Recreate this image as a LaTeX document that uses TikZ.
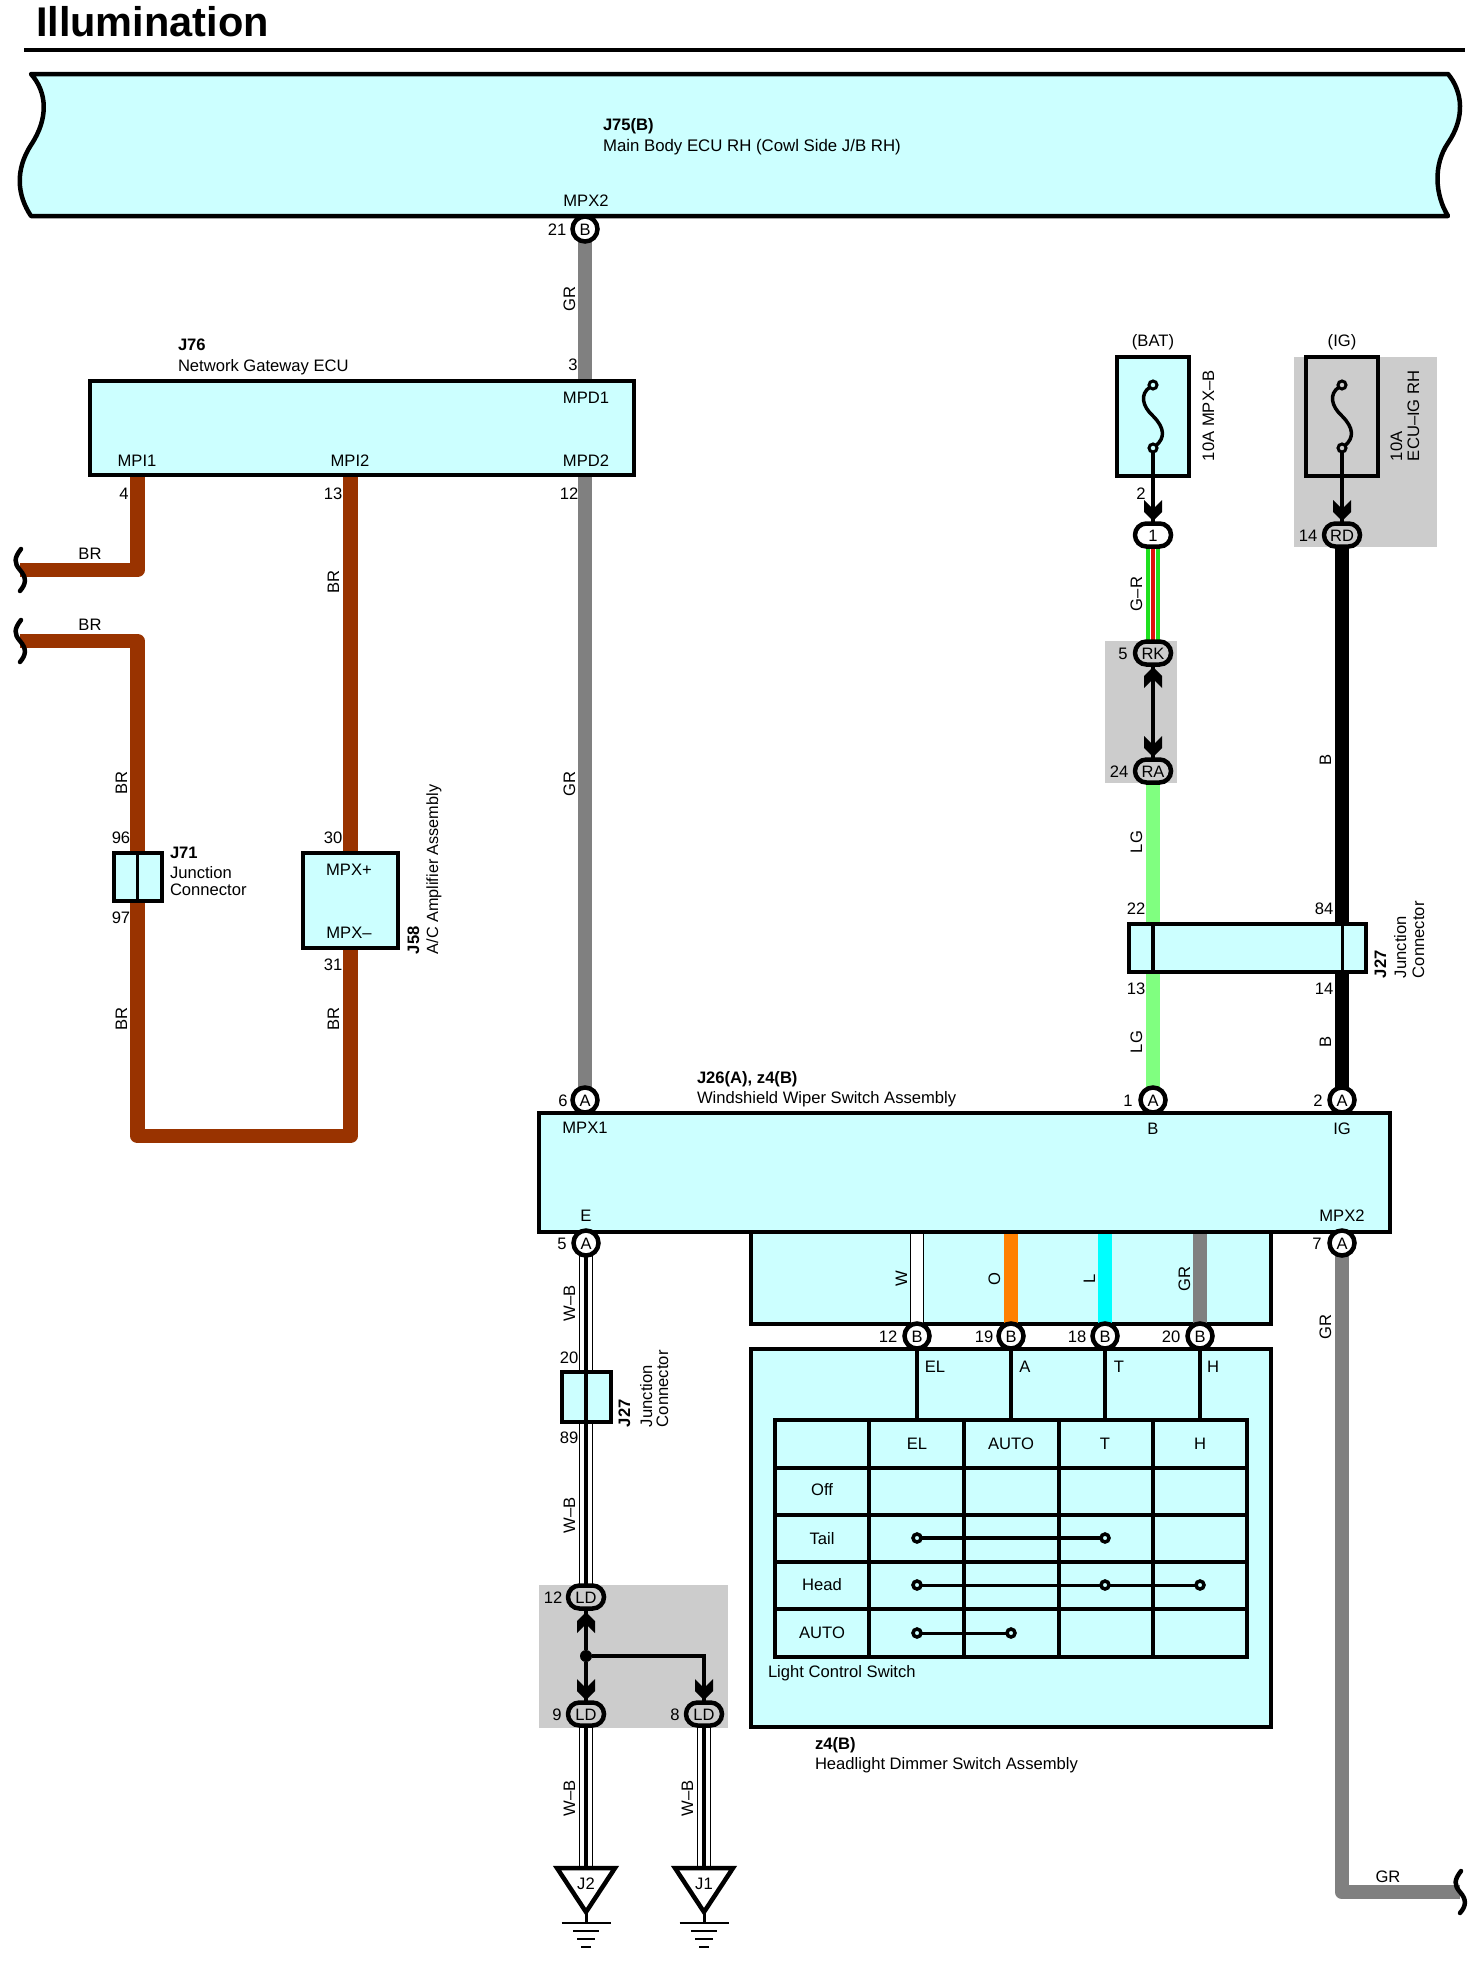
\documentclass[tikz,border=0pt]{standalone}
\usepackage{fontspec}
\setmainfont{Liberation Sans}
\pgfdeclarelayer{grayl}
\pgfdeclarelayer{wires}
\pgfsetlayers{grayl,wires,main}
\definecolor{cy}{HTML}{CCFFFF}
\definecolor{gy}{HTML}{CCCCCC}
\definecolor{wbr}{HTML}{993300}
\definecolor{wgr}{HTML}{808080}
\definecolor{wlg}{HTML}{80FF80}
\definecolor{wg}{HTML}{1EE01E}
\definecolor{wred}{HTML}{E01010}
\definecolor{wor}{HTML}{FF8000}
\definecolor{wcy}{HTML}{00FFFF}
\tikzset{
 lbl/.style={font=\fontsize{16.6}{20}\selectfont,inner sep=0pt,outer sep=0pt,text height=12pt,text depth=0pt},
 bl/.style={lbl,font=\fontsize{16.6}{20}\selectfont\bfseries},
 rot/.style={rotate=90},
 box/.style={draw=black,fill=cy,line width=4.5pt,inner sep=0pt,outer sep=0pt,anchor=north west},
 pin/.style={circle,draw=black,fill=white,line width=4.5pt,minimum size=25pt,inner sep=0pt,outer sep=0pt,
   font=\fontsize{16.5}{20}\selectfont,text height=12pt,text depth=0pt},
 oval/.style={rectangle,rounded corners=11.4pt,draw=black,fill=gy,line width=4.5pt,minimum width=36pt,minimum height=23pt,
   inner sep=0pt,outer sep=0pt,font=\fontsize{16.5}{20}\selectfont,text height=12pt,text depth=0pt},
 wire/.style={line width=14.6pt,line join=round},
 thinw/.style={line width=3.2pt,black},
 wb/.style={wire,draw=black,postaction={draw=white,line width=12.4pt},postaction={draw=black,line width=4pt}},
 gr/.style={wire,draw=wg,postaction={draw=white,line width=6pt},postaction={draw=wred,line width=4pt}},
 wwire/.style={wire,draw=black,postaction={draw=white,line width=12.4pt}},
 term/.style={circle,draw=black,line width=3pt,minimum size=8pt,inner sep=0pt,outer sep=0pt},
 tdot/.style={circle,draw=black,fill=cy,line width=3.5pt,minimum size=8pt,inner sep=0pt,outer sep=0pt},
 chev/.pic={\fill[black] (-9,-21) -- (-9,-9) -- (0,0) -- (9,-9) -- (9,-21) -- (0,-12) -- cycle;},
 squig/.pic={\draw[black,line width=4.5pt,line cap=round] (1,-21) .. controls (-6,-12) and (-6,-7) .. (0,0) .. controls (7,8) and (6,14) .. (0,21);},
 gnd/.pic={
   \draw[black,line width=3pt] (0,44) -- (0,55);
   \draw[black,fill=white,line width=4.5pt,line join=miter] (-29,0) -- (29,0) -- (0,44) -- cycle;
   \draw[black,line width=2.6pt] (-24.5,55) -- (24.5,55) (-13,63) -- (13,63) (-9,71) -- (9,71) (-5,79) -- (5,79);
 },
}
\begin{document}
\begin{tikzpicture}[x=1pt,y=-1pt]
\useasboundingbox (0,0) rectangle (1479,1965);

% gray zones
\begin{pgfonlayer}{grayl}
\fill[white] (0,0) rectangle (1479,1965);
\fill[gy] (1105,641) rectangle (1177,783);
\fill[gy] (1294,357) rectangle (1437,547);
\fill[gy] (539,1585) rectangle (728,1728);
\end{pgfonlayer}

% title
\node[inner sep=0pt,outer sep=0pt,anchor=west,font=\fontsize{41.5}{48}\selectfont\bfseries,text height=29pt,text depth=0pt] (title) at (36,22) {Illumination};
\coordinate (ruleL) at (24,49.5);
\coordinate (ruleR) at (1465,49.5);
\draw[black,line width=4pt] (ruleL) -- (ruleR);

% J75 body
\draw[black,fill=cy,line width=4.5pt,line join=round]
  (31,74) .. controls (47,92) and (49,118) .. (31,145) .. controls (15,170) and (17,195) .. (31,216)
  -- (1448,216) .. controls (1435,195) and (1433,165) .. (1448,143) .. controls (1465,118) and (1463,92) .. (1448,74) -- cycle;

% boxes
\node[box,minimum width=544pt,minimum height=94pt] (J76) at (90,381) {};
\node[box,minimum width=48pt,minimum height=48pt] (J71) at (114,853) {};
\node[box,minimum width=95pt,minimum height=95pt] (J58) at (303,853) {};
\node[box,minimum width=72pt,minimum height=119pt] (fBAT) at (1117,357) {};
\node[box,fill=none,minimum width=72pt,minimum height=119pt] (fIG) at (1306,357) {};
\node[box,minimum width=237pt,minimum height=48pt] (J27a) at (1129,924) {};
\node[box,minimum width=851pt,minimum height=119pt] (SW) at (539,1113) {};
\node[box,minimum width=49pt,minimum height=50pt] (J27b) at (562,1372) {};
\node[box,minimum width=520pt,minimum height=378pt] (z4) at (751,1349) {};
\node[box,fill=none,minimum width=472pt,minimum height=237pt] (T) at (775,1420) {};

% pins
\node[pin] (p21) at (585,229) {B};
\node[pin] (p6) at (585,1100) {A};
\node[pin] (p1a) at (1153,1100) {A};
\node[pin] (p2a) at (1342,1100) {A};
\node[pin] (p5a) at (586,1243) {A};
\node[pin] (p7a) at (1342,1243) {A};
\node[pin] (b12) at (917,1336) {B};
\node[pin] (b19) at (1011,1336) {B};
\node[pin] (b18) at (1105,1336) {B};
\node[pin] (b20) at (1200,1336) {B};
\node[oval,fill=white] (c1) at (1153,535) {1};
\node[oval] (RK) at (1153,653) {RK};
\node[oval] (RA) at (1153,771) {RA};
\node[oval] (RD) at (1342,535) {RD};
\node[oval] (LD12) at (586,1597) {LD};
\node[oval] (LD9) at (586,1714) {LD};
\node[oval] (LD8) at (704,1714) {LD};

% free wire ends
\coordinate (s1) at (20,570);
\coordinate (s2) at (20,641);
\coordinate (s3) at (1460,1892);
\coordinate (cb1) at (137.5,1136);
\coordinate (cb2) at (350.5,1136);
\coordinate (c4) at (137.5,475);
\coordinate (c13) at (350.5,475);
\coordinate (g2) at (586,1868);
\coordinate (g1) at (704,1868);

% wires
\begin{pgfonlayer}{wires}
\draw[wire,wgr] (p21) -- (p21 |- J76.north);
\draw[wire,wgr] (p6 |- J76.south) -- (p6);
\draw[wire,wbr] (c4) |- (s1);
\draw[wire,wbr] (s2) -| (cb1) -- (cb2) -- (J58.south);
\draw[wire,wbr] (c13) -- (J58.north);
\draw[gr] (c1) -- (RK);
\draw[wire,wlg] (RA) -- (RA |- J27a.north);
\draw[wire,wlg] (RA |- J27a.south) -- (p1a);
\draw[wire,black] (RD) -- (p2a);
\draw[wire,wgr] (p7a) |- (s3);
\draw[wb] (p5a) -- (LD12);
\draw[wb] (LD9) -- (g2);
\draw[wb] (LD8) -- (g1);
\node[box,minimum width=520pt,minimum height=92pt] (harn) at (751,1232) {};
\draw[wwire] (b12 |- SW.south) -- (b12);
\draw[wire,wor] (b19 |- SW.south) -- (b19);
\draw[wire,wcy] (b18 |- SW.south) -- (b18);
\draw[wire,wgr] (b20 |- SW.south) -- (b20);
\end{pgfonlayer}

% inner lines of junction connectors
\draw[black,line width=3pt] (137.5,853) -- (137.5,901);
\draw[black,line width=4pt] (RA |- J27a.north) -- (RA |- J27a.south);
\draw[black,line width=3pt] (RD |- J27a.north) -- (RD |- J27a.south);
\draw[black,line width=3.5pt] (p5a |- J27b.north) -- (p5a |- J27b.south);

% fuses
\node[term,fill=cy] (ft1) at (1153,385) {};
\node[term,fill=cy] (ft2) at (1153,448) {};
\node[term,fill=gy] (gt1) at (1342,385) {};
\node[term,fill=gy] (gt2) at (1342,448) {};
\draw[black,line width=3.5pt] (ft1) .. controls (1140,394) and (1142,406) .. (1153,416) .. controls (1165,428) and (1165,438) .. (ft2);
\draw[black,line width=3.5pt] (gt1) .. controls (1329,394) and (1331,406) .. (1342,416) .. controls (1354,428) and (1354,438) .. (gt2);
\draw[thinw] (ft2) -- (c1);
\draw[thinw] (gt2) -- (RD);
\pic at (1153,521) {chev};
\pic at (1342,521) {chev};

% splices
\draw[thinw] (RK) -- (RA);
\pic[rotate=180] at (1153,667) {chev};
\pic at (1153,757) {chev};
\node[circle,fill=black,minimum size=12pt,inner sep=0pt,outer sep=0pt] (jn) at (586,1656) {};
\draw[thinw] (LD12) -- (jn);
\draw[thinw] (jn) -- (LD9);
\draw[thinw] (jn) -| (LD8);
\pic[rotate=180] at (586,1612) {chev};
\pic at (586,1700) {chev};
\pic at (704,1700) {chev};

% squiggles and grounds
\pic at (s1) {squig};
\pic at (s2) {squig};
\pic at (s3) {squig};
\pic at (g2) {gnd};
\pic at (g1) {gnd};
\node[lbl] (tJ2) at (586,1883) {J2};
\node[lbl] (tJ1) at (704,1883) {J1};

% switch connections
\draw[black,line width=4pt] (b12) -- (b12 |- T.north);
\draw[black,line width=4pt] (b19) -- (b19 |- T.north);
\draw[black,line width=4pt] (b18) -- (b18 |- T.north);
\draw[black,line width=4pt] (b20) -- (b20 |- T.north);

% table grid
\draw[black,line width=3.5pt] (869,1420) -- (869,1657) (964,1420) -- (964,1657) (1059,1420) -- (1059,1657) (1153,1420) -- (1153,1657);
\draw[black,line width=3.5pt] (775,1468) -- (1247,1468) (775,1515) -- (1247,1515) (775,1562) -- (1247,1562) (775,1609) -- (1247,1609);
\node[tdot] (d1) at (917,1538) {};
\node[tdot] (d2) at (1105,1538) {};
\node[tdot] (d3) at (917,1585) {};
\node[tdot] (d4) at (1105,1585) {};
\node[tdot] (d5) at (1200,1585) {};
\node[tdot] (d6) at (917,1633) {};
\node[tdot] (d7) at (1011,1633) {};
\draw[black,line width=4pt] (d1) -- (d2);
\draw[black,line width=3pt] (d3) -- (d4);
\draw[black,line width=3pt] (d4) -- (d5);
\draw[black,line width=3pt] (d6) -- (d7);

% text: J75
\node[bl,anchor=west] (tJ75) at (603,124) {J75(B)};
\node[lbl,anchor=west,font=\fontsize{16.8}{20}\selectfont] (tJ75n) at (603,145) {Main Body ECU RH (Cowl Side J/B RH)};
\node[lbl] (tMPX2a) at (586,200) {MPX2};
\node[lbl] (n21) at (557,229) {21};
\node[lbl,rot] (wGR1) at (569,299) {GR};
\node[lbl] (n3) at (573,364) {3};
% J76
\node[bl,anchor=west] (tJ76) at (178,344) {J76};
\node[lbl,anchor=west] (tJ76n) at (178,365) {Network Gateway ECU};
\node[lbl] (tMPD1) at (586,397) {MPD1};
\node[lbl] (tMPI1) at (137,460) {MPI1};
\node[lbl] (tMPI2) at (350,460) {MPI2};
\node[lbl] (tMPD2) at (586,460) {MPD2};
\node[lbl] (n4) at (124,493) {4};
\node[lbl] (n13) at (333,493) {13};
\node[lbl] (n12) at (569,493) {12};
\node[lbl,rot] (wGR2) at (569,784) {GR};
% BR
\node[lbl] (wBR1) at (90,553) {BR};
\node[lbl] (wBR2) at (90,624) {BR};
\node[lbl,rot] (wBR3) at (121,783) {BR};
\node[lbl,rot] (wBR4) at (333,582) {BR};
\node[lbl,rot] (wBR5) at (121,1019) {BR};
\node[lbl,rot] (wBR6) at (333,1019) {BR};
\node[lbl] (n96) at (121,837) {96};
\node[lbl] (n97) at (121,917) {97};
\node[lbl] (n30) at (333,837) {30};
\node[lbl] (n31) at (333,964) {31};
\node[bl,anchor=west] (tJ71) at (170,852) {J71};
\node[lbl,anchor=west] (tJ71a) at (170,872) {Junction};
\node[lbl,anchor=west] (tJ71b) at (170,889) {Connector};
\node[lbl] (tMPXp) at (349,869) {MPX+};
\node[lbl] (tMPXm) at (349,932) {MPX–};
\node[bl,rot,anchor=west] (tJ58) at (413,954) {J58};
\node[lbl,rot,anchor=west,font=\fontsize{16.2}{20}\selectfont] (tJ58n) at (432,954) {A/C Amplifier Assembly};
% right top
\node[lbl] (tBAT) at (1153,340) {(BAT)};
\node[lbl] (tIG) at (1342,340) {(IG)};
\node[lbl,rot,anchor=west] (tf1) at (1208,461) {10A MPX–B};
\node[lbl,rot,anchor=west] (tf2a) at (1396,461) {10A};
\node[lbl,rot,anchor=west] (tf2b) at (1413,461) {ECU–IG RH};
\node[lbl] (n2f) at (1141,493) {2};
\node[lbl] (n14r) at (1308,535) {14};
\node[lbl,rot] (wGRr) at (1136,594) {G–R};
\node[lbl] (n5) at (1123,653) {5};
\node[lbl] (n24) at (1119,771) {24};
\node[lbl,rot] (wLG1) at (1136,842) {LG};
\node[lbl,rot] (wLG2) at (1136,1042) {LG};
\node[lbl,rot] (wB1) at (1325,760) {B};
\node[lbl,rot] (wB2) at (1325,1042) {B};
\node[lbl] (n22) at (1136,908) {22};
\node[lbl] (n84) at (1324,908) {84};
\node[lbl] (n13b) at (1136,988) {13};
\node[lbl] (n14b) at (1324,988) {14};
\node[bl,rot,anchor=west] (tJ27a) at (1380,978) {J27};
\node[lbl,rot,anchor=west] (tJ27a1) at (1400,978) {Junction};
\node[lbl,rot,anchor=west] (tJ27a2) at (1418,978) {Connector};
% switch assembly
\node[bl,anchor=west] (tJ26) at (697,1077) {J26(A), z4(B)};
\node[lbl,anchor=west] (tJ26n) at (697,1097) {Windshield Wiper Switch Assembly};
\node[lbl] (n6) at (563,1100) {6};
\node[lbl] (n1) at (1128,1100) {1};
\node[lbl] (n2) at (1318,1100) {2};
\node[lbl] (tMPX1) at (585,1127) {MPX1};
\node[lbl] (tB) at (1153,1128) {B};
\node[lbl] (tIGs) at (1342,1128) {IG};
\node[lbl] (tE) at (586,1215) {E};
\node[lbl] (tMPX2b) at (1342,1215) {MPX2};
\node[lbl] (n5b) at (562,1243) {5};
\node[lbl] (n7) at (1317,1243) {7};
% harness
\node[lbl,rot] (wW) at (901,1279) {W};
\node[lbl,rot] (wO) at (994,1279) {O};
\node[lbl,rot] (wL) at (1089,1279) {L};
\node[lbl,rot] (wGRh) at (1184,1279) {GR};
\node[lbl] (n12b) at (888,1336) {12};
\node[lbl] (n19) at (984,1336) {19};
\node[lbl] (n18) at (1077,1336) {18};
\node[lbl] (n20) at (1171,1336) {20};
\node[lbl] (tEL) at (935,1366) {EL};
\node[lbl] (tA) at (1025,1366) {A};
\node[lbl] (tT) at (1119,1366) {T};
\node[lbl] (tH) at (1213,1366) {H};
% table
\node[lbl] (hEL) at (917,1443) {EL};
\node[lbl] (hAU) at (1011,1443) {AUTO};
\node[lbl] (hT) at (1105,1443) {T};
\node[lbl] (hH) at (1200,1443) {H};
\node[lbl] (rOff) at (822,1489) {Off};
\node[lbl] (rTail) at (822,1538) {Tail};
\node[lbl] (rHead) at (822,1584) {Head};
\node[lbl] (rAuto) at (822,1632) {AUTO};
\node[lbl,anchor=west] (tLCS) at (768,1671) {Light Control Switch};
\node[bl,anchor=west] (tz4) at (815,1743) {z4(B)};
\node[lbl,anchor=west] (tz4n) at (815,1763) {Headlight Dimmer Switch Assembly};
% lower left
\node[lbl,rot] (wWB1) at (569,1303) {W–B};
\node[lbl] (n20b) at (569,1357) {20};
\node[lbl] (n89) at (569,1437) {89};
\node[lbl,rot] (wWB2) at (569,1515) {W–B};
\node[bl,rot,anchor=west] (tJ27b) at (624,1427) {J27};
\node[lbl,rot,anchor=west] (tJ27b1) at (646,1427) {Junction};
\node[lbl,rot,anchor=west] (tJ27b2) at (662,1427) {Connector};
\node[lbl] (n12c) at (553,1597) {12};
\node[lbl] (n9) at (557,1714) {9};
\node[lbl] (n8) at (675,1714) {8};
\node[lbl,rot] (wWB3) at (569,1798) {W–B};
\node[lbl,rot] (wWB4) at (687,1798) {W–B};
% right bottom
\node[lbl,rot] (wGRb) at (1325,1327) {GR};
\node[lbl] (wGRc) at (1388,1876) {GR};
\end{tikzpicture}
\end{document}
